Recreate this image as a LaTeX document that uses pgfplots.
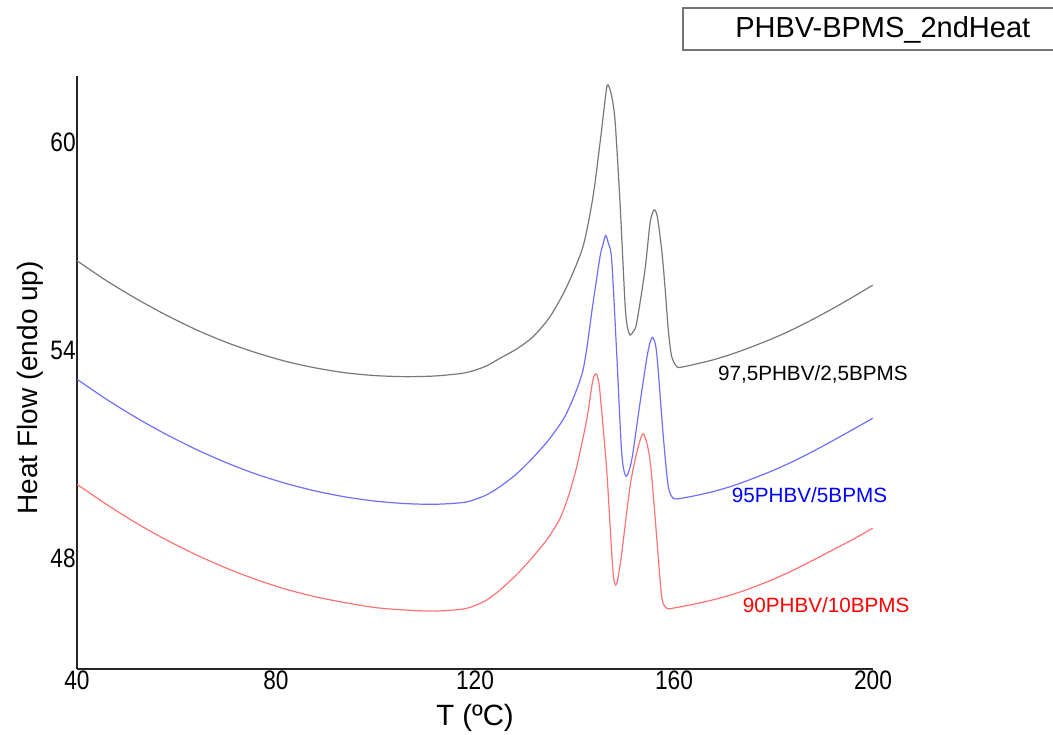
\documentclass[border=0pt]{standalone}
\usepackage{pgfplots}
\pgfplotsset{compat=1.18}
\usepackage{fontspec}
\setmainfont{Liberation Sans}
\definecolor{cgray}{RGB}{120,120,120}
\definecolor{cblue}{RGB}{110,110,255}
\definecolor{cred}{RGB}{255,115,115}
\begin{document}
\begin{tikzpicture}
\path[use as bounding box] (0,0) rectangle (789.75pt,551.25pt);
\begin{axis}[
  at={(57.75pt,49.5pt)}, anchor=south west, scale only axis,
  width=597pt, height=444.75pt,
  xmin=40, xmax=200, ymin=44.86, ymax=61.96,
  axis x line=bottom, axis y line=left,
  axis line style={-, line width=1.6pt, black!85},
  xtick={40,80,120,160,200}, ytick={48,54,60},
  major tick length=0pt,
  /pgf/number format/assume math mode=true,
  tick label style={font=\fontsize{20}{24}\selectfont, xscale=0.85},
  xticklabel style={anchor=north, inner sep=0pt, yshift=-1pt},
  yticklabel style={anchor=east, inner sep=0pt, xshift=-1pt, yshift=1pt},
  xlabel={T (ºC)},
  xlabel style={at={(axis description cs:0.5,-0.082)}, anchor=center, font=\fontsize{22}{26}\selectfont},
  ylabel={Heat Flow (endo up)},
  ylabel style={at={(axis description cs:-0.059,0.474)}, anchor=center, font=\fontsize{21}{25}\selectfont},
  clip=false,
  every axis plot/.append style={line width=0.9pt, smooth, tension=0.45},
]
\addplot[cgray] table {
40.0 56.63
46.0 56.05
52.0 55.53
58.0 55.06
64.0 54.64
70.0 54.28
76.0 53.98
82.0 53.73
88.0 53.54
94.0 53.40
100.0 53.32
106.0 53.29
112.0 53.31
118.0 53.40
122.0 53.58
125.03 53.82
128.5 54.10
131.66 54.44
135.08 55.02
138.43 55.88
141.71 57.04
143.72 58.48
145.13 60.03
145.93 61.0
146.59 61.70
147.36 61.45
148.14 60.69
149.15 58.30
150.15 55.41
150.6 54.75
151.16 54.49
151.8 54.59
152.5 54.84
154.17 56.37
155.18 57.71
155.98 58.10
156.65 57.90
157.53 56.94
158.19 55.88
158.85 54.64
159.53 53.87
160.54 53.58
161.3 53.56
164.0 53.64
168.0 53.78
172.0 53.96
176.0 54.17
180.0 54.40
184.0 54.66
188.0 54.95
192.0 55.26
196.0 55.59
199.94 55.93
};
\addplot[cblue] table {
40.06 53.21
46.0 52.63
52.0 52.10
58.0 51.62
64.0 51.19
70.0 50.81
76.0 50.48
82.0 50.21
88.0 49.99
94.0 49.82
100.0 49.70
106.0 49.63
112.0 49.61
118.0 49.67
122.0 49.86
125.03 50.12
128.3 50.48
131.3 50.90
135.0 51.50
138.43 52.24
141.71 53.48
143.72 55.41
145.13 56.75
145.7 57.09
146.27 57.36
146.8 57.14
147.48 56.65
148.48 53.97
149.49 51.09
150.35 50.42
151.5 50.89
153.17 52.53
154.71 53.97
155.64 54.42
156.52 53.97
157.85 51.56
158.85 50.12
159.86 49.78
161.3 49.78
164.0 49.85
168.0 49.98
172.0 50.15
176.0 50.36
180.0 50.59
184.0 50.85
188.0 51.14
192.0 51.45
196.0 51.77
199.94 52.09
};
\addplot[cred] table {
40.06 50.18
46.0 49.60
52.0 49.06
58.0 48.58
64.0 48.15
70.0 47.77
76.0 47.44
82.0 47.16
88.0 46.94
94.0 46.77
100.0 46.63
106.0 46.56
112.0 46.53
118.0 46.60
122.0 46.82
125.03 47.14
128.5 47.60
131.66 48.10
134.5 48.60
137.09 49.20
138.8 49.85
140.44 50.69
142.45 52.04
143.46 53.0
143.9 53.30
144.32 53.37
144.7 53.25
145.13 52.82
146.47 50.60
147.48 48.20
147.9 47.45
148.28 47.28
148.7 47.45
149.49 48.20
151.16 50.12
152.5 51.09
153.83 51.64
155.18 50.89
156.52 48.67
157.53 46.94
158.53 46.61
160.0 46.62
164.0 46.73
168.0 46.86
172.0 47.02
176.0 47.22
180.0 47.45
184.0 47.71
188.0 48.00
192.0 48.30
196.0 48.60
199.94 48.92
};
\node[anchor=base west, inner sep=0pt, font=\fontsize{15.5}{18}\selectfont, text=black] at (axis cs:168.8,53.18) {97,5PHBV/2,5BPMS};
\node[anchor=base west, inner sep=0pt, font=\fontsize{15.5}{18}\selectfont, text=blue] at (axis cs:171.6,49.66) {95PHBV/5BPMS};
\node[anchor=base west, inner sep=0pt, font=\fontsize{15.5}{18}\selectfont, text=red] at (axis cs:173.8,46.49) {90PHBV/10BPMS};
\end{axis}
\draw[line width=0.8pt, black!55] (512.25pt,513.75pt) rectangle (800pt,545.25pt);
\node[anchor=base west, inner sep=0pt, font=\fontsize{21.75}{26}\selectfont] at (551.25pt,522.75pt) {PHBV-BPMS\_2ndHeat};
\end{tikzpicture}
\end{document}
